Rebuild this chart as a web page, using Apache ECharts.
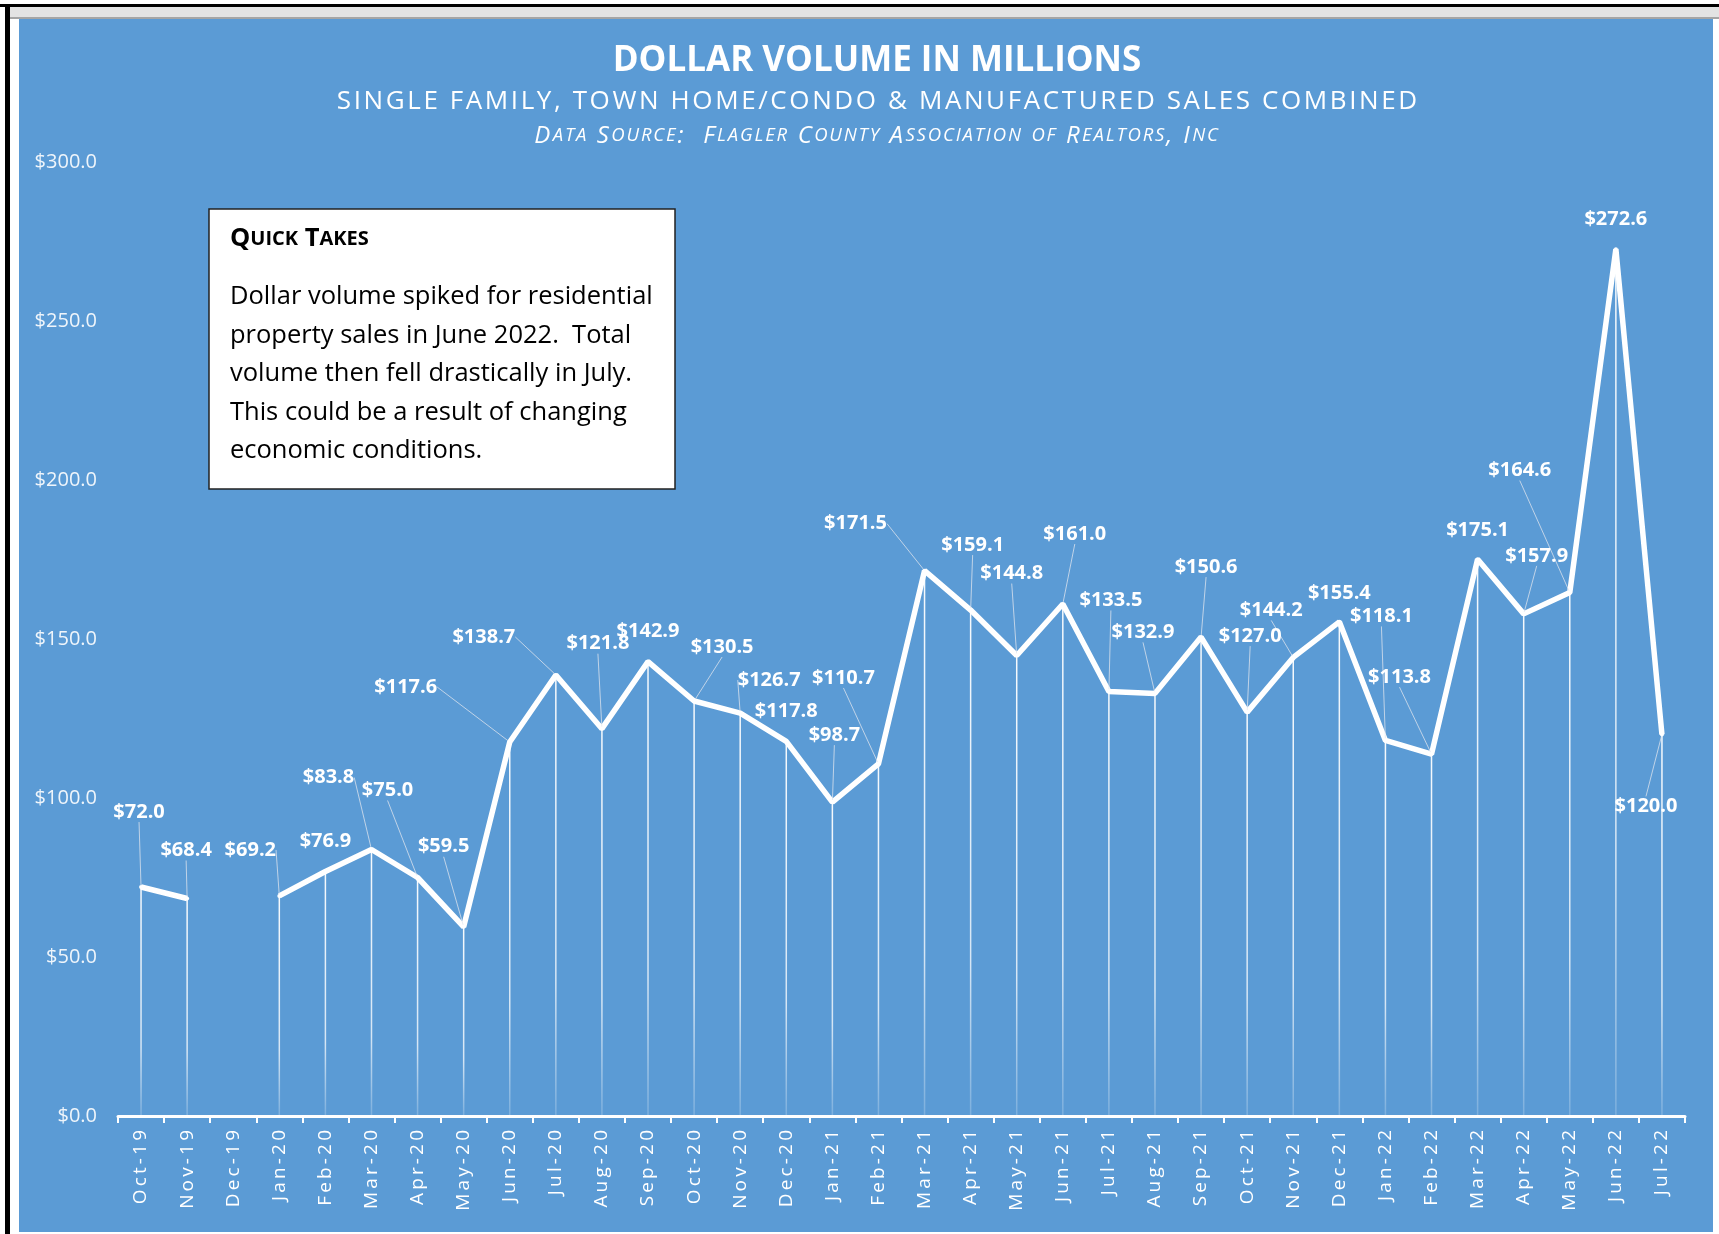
<!DOCTYPE html>
<html>
<head>
<meta charset="utf-8">
<title>Dollar Volume in Millions</title>
<script src="https://cdn.jsdelivr.net/npm/echarts@6/dist/echarts.min.js"></script>
<style>
  html, body { margin: 0; padding: 0; background: #fff; }
  #topBar { position: absolute; left: 0; top: 4px; width: 1719px; height: 3px; background: #000; }
  #greyBar { position: absolute; left: 7px; top: 7px; width: 1712px; height: 10px; background: #e3e3e3; border-bottom: 2px solid #a5a5a5; }
  #leftBar { position: absolute; left: 5px; top: 4px; width: 5px; height: 1230px; background: #000; }
  #chart { position: absolute; left: 19px; top: 19px; width: 1694px; height: 1213px; background: #5b9bd5; }
</style>
</head>
<body>
<div id="topBar"></div>
<div id="greyBar"></div>
<div id="leftBar"></div>
<div id="chart"></div>
<script>
// months Oct-19 .. Jul-22
const months = ['Oct-19', 'Nov-19', 'Dec-19', 'Jan-20', 'Feb-20', 'Mar-20', 'Apr-20', 'May-20', 'Jun-20',
  'Jul-20', 'Aug-20', 'Sep-20', 'Oct-20', 'Nov-20', 'Dec-20', 'Jan-21', 'Feb-21', 'Mar-21', 'Apr-21',
  'May-21', 'Jun-21', 'Jul-21', 'Aug-21', 'Sep-21', 'Oct-21', 'Nov-21', 'Dec-21', 'Jan-22', 'Feb-22',
  'Mar-22', 'Apr-22', 'May-22', 'Jun-22', 'Jul-22'];

// dollar volume, millions (Dec-19 missing)
const volume = [72.0, 68.4, null, 69.2, 76.9, 83.8, 75.0, 59.5, 117.6,
  138.7, 121.8, 142.9, 130.5, 126.7, 117.8, 98.7, 110.7, 171.5, 159.1,
  144.8, 161.0, 133.5, 132.9, 150.6, 127.0, 144.2, 155.4, 118.1, 113.8,
  175.1, 157.9, 164.6, 272.6, 120.0];

const yTicks = [0, 50, 100, 150, 200, 250, 300];

// where each data label sits relative to its point (px)
const labelShift = [[-2, -75], [-1, -48], [0, 0], [-29, -46], [0, -30], [-43, -72], [-30, -87], [-20, -80], [-104, -55],
  [-72, -38], [-4, -85], [0, -30], [28, -54], [29, -33], [0, -30], [2, -67], [-35, -86], [-69, -47], [2, -65],
  [-5, -82], [12, -70], [2, -91], [-12, -61], [5, -70], [3, -76], [-22, -47], [0, -29], [-4, -124], [-32, -77],
  [0, -29], [13, -58], [-50, -122], [0, -30], [-16, 72]];

const quickTitle = 'Quick Takes';
const quickText = [
  'Dollar volume spiked for residential',
  'property sales in June 2022.  Total',
  'volume then fell drastically in July.',
  'This could be a result of changing',
  'economic conditions.'
];

const FONT = '"Open Sans", "Noto Sans", sans-serif';
const HAIR = '\u200A';

function spaced(s, gap) {
  return s.split('').join(gap);
}

// fake small caps with rich text
function smallCaps(str, gap) {
  let out = '';
  let cur = null;
  let buf = '';
  for (const ch of str) {
    const kind = (ch >= 'a' && ch <= 'z') ? 's' : 'b';
    if (kind !== cur) {
      if (buf) out += '{' + cur + '|' + buf + '}';
      buf = '';
      cur = kind;
    }
    buf += ch.toUpperCase() + (gap || '');
  }
  if (buf) out += '{' + cur + '|' + buf + '}';
  return out;
}

const chart = echarts.init(document.getElementById('chart'));

const seriesData = volume.map((v, i) => {
  const [dx, dy] = labelShift[i];
  const near = Math.abs(dx) < 6 && Math.abs(dy + 30) < 6;
  return { value: v, labelLine: { show: !near } };
});

chart.setOption({
  animation: false,
  backgroundColor: '#5b9bd5',
  grid: { left: 99, right: 28, top: 143, bottom: 116 },
  xAxis: {
    type: 'category',
    data: months,
    boundaryGap: true,
    axisLine: { lineStyle: { color: '#fff', width: 3 } },
    axisTick: { show: true, length: 7, lineStyle: { color: '#fff', width: 2 } },
    axisLabel: {
      rotate: 90,
      margin: 14,
      color: '#fff',
      fontFamily: FONT,
      fontSize: 19,
      interval: 0,
      formatter: (s) => spaced(s, '\u2009')
    },
    splitLine: { show: false }
  },
  yAxis: {
    type: 'value',
    min: yTicks[0],
    max: yTicks[yTicks.length - 1],
    interval: 50,
    axisLine: { show: false },
    axisTick: { show: false },
    splitLine: { show: false },
    axisLabel: {
      margin: 21,
      color: 'rgba(255,255,255,0.9)',
      fontFamily: FONT,
      fontSize: 20,
      formatter: (v) => '$' + v.toFixed(1)
    }
  },
  series: [
    {
      // drop lines
      type: 'bar',
      data: volume,
      barWidth: 1.5,
      silent: true,
      z: 1,
      itemStyle: {
        color: new echarts.graphic.LinearGradient(0, 0, 0, 1, [
          { offset: 0, color: 'rgba(255,255,255,0.95)' },
          { offset: 0.7, color: 'rgba(255,255,255,0.75)' },
          { offset: 1, color: 'rgba(255,255,255,0.2)' }
        ])
      }
    },
    {
      type: 'line',
      data: seriesData,
      connectNulls: false,
      symbol: 'circle',
      symbolSize: 4,
      showSymbol: true,
      z: 3,
      itemStyle: { color: '#fff' },
      lineStyle: { color: '#fff', width: 5.5 },
      label: {
        show: true,
        position: 'inside',
        color: '#fff',
        fontFamily: FONT,
        fontWeight: 'bold',
        fontSize: 20,
        formatter: (p) => '$' + p.value.toFixed(1)
      },
      labelLine: {
        show: true,
        lineStyle: { color: 'rgba(225,230,238,0.75)', width: 1 }
      },
      labelLayout: (p) => ({ dx: labelShift[p.dataIndex][0], dy: labelShift[p.dataIndex][1] })
    }
  ],
  graphic: [
    {
      type: 'text',
      x: 858, y: 42,
      style: {
        text: 'DOLLAR VOLUME IN MILLIONS',
        fill: '#fff', font: 'bold 35px ' + FONT,
        align: 'center', verticalAlign: 'middle'
      }
    },
    {
      type: 'text',
      x: 858, y: 83,
      style: {
        text: spaced('SINGLE FAMILY, TOWN HOME/CONDO & MANUFACTURED SALES COMBINED', HAIR),
        fill: '#fff', font: '26px ' + FONT,
        align: 'center', verticalAlign: 'middle'
      }
    },
    {
      type: 'text',
      x: 858, y: 117,
      style: {
        text: smallCaps('Data Source:  Flagler County Association of Realtors, Inc', HAIR),
        align: 'center', verticalAlign: 'middle',
        rich: {
          b: { fill: '#fff', fontFamily: FONT, fontStyle: 'italic', fontSize: 24 },
          s: { fill: '#fff', fontFamily: FONT, fontStyle: 'italic', fontSize: 18.5 }
        }
      }
    },
    {
      type: 'group',
      x: 190, y: 190,
      children: [
        {
          type: 'rect',
          shape: { x: 0, y: 0, width: 466, height: 280 },
          style: { fill: '#fff', stroke: '#222', lineWidth: 1.5 }
        },
        {
          type: 'text',
          x: 21, y: 30,
          style: {
            text: smallCaps(quickTitle),
            verticalAlign: 'middle',
            rich: {
              b: { fill: '#000', fontFamily: FONT, fontWeight: 'bold', fontSize: 25.5 },
              s: { fill: '#000', fontFamily: FONT, fontWeight: 'bold', fontSize: 20 }
            }
          }
        },
        {
          type: 'text',
          x: 21, y: 69,
          style: {
            text: quickText.join('\n'),
            fill: '#000',
            font: '25.5px ' + FONT,
            lineHeight: 38.4,
            verticalAlign: 'top'
          }
        }
      ]
    }
  ]
});
</script>
</body>
</html>
